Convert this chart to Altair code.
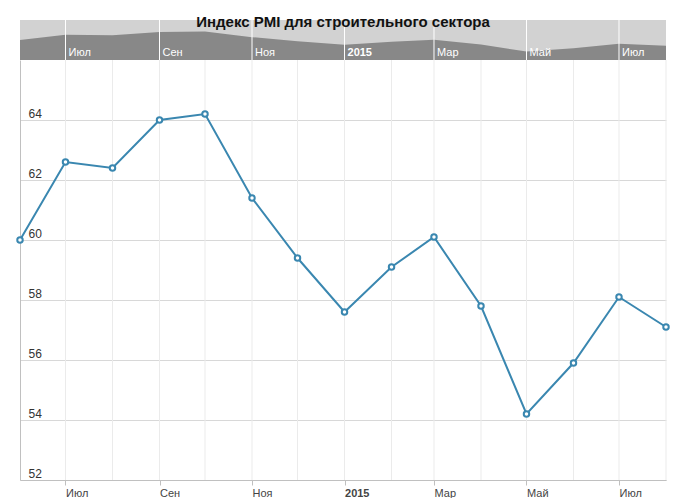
import pandas as pd
import altair as alt

# monthly PMI, construction sector
dates = [
    "2014-06-01", "2014-07-01", "2014-08-01", "2014-09-01", "2014-10-01",
    "2014-11-01", "2014-12-01", "2015-01-01", "2015-02-01", "2015-03-01",
    "2015-04-01", "2015-05-01", "2015-06-01", "2015-07-01", "2015-08-01",
]
pmi = [60.0, 62.6, 62.4, 64.0, 64.2, 61.4, 59.4, 57.6, 59.1, 60.1,
       57.8, 54.2, 55.9, 58.1, 57.1]

tick_dates = ["2014-07-01", "2014-09-01", "2014-11-01", "2015-01-01",
              "2015-03-01", "2015-05-01", "2015-07-01"]
tick_labels = ["Июл", "Сен", "Ноя", "2015", "Мар", "Май", "Июл"]
month_names = ["Янв", "Фев", "Мар", "Апр", "Май", "Июн",
               "Июл", "Авг", "Сен", "Окт", "Ноя", "Дек"]
y_ticks = [52, 54, 56, 58, 60, 62, 64]
title_text = "Индекс PMI для строительного сектора"

W, H, NAV = 646, 460, 40
NAV_MIN, NAV_MAX = 50, 70
FONT = "Liberation Sans"
LINE_COLOR = "#3a87b0"


def ms(d):
    return int(pd.Timestamp(d).value // 10**6)


df = pd.DataFrame({"date": dates, "pmi": pmi, "base": NAV_MIN})
ticks_df = pd.DataFrame({
    "date": tick_dates,
    "label": tick_labels,
    "bold": [lbl.isdigit() for lbl in tick_labels],
})
grid_df = pd.DataFrame({"date": dates[1:]})

x_scale = alt.Scale(type="utc", domain=[ms(dates[0]), ms(dates[-1])])
names_js = "[" + ",".join("'%s'" % m for m in month_names) + "]"
label_expr = (
    "utcmonth(datum.value) == 0 ? utcFormat(datum.value, '%Y') : "
    + names_js + "[utcmonth(datum.value)]"
)

x_axis = alt.Axis(
    values=[ms(d) for d in tick_dates],
    labelExpr=label_expr,
    grid=False,
    domainColor="#c0c0c0",
    tickColor="#c0c0c0",
    tickSize=5,
    labelAlign="left",
    labelBaseline="top",
    labelPadding=2,
    labelFlush=False,
    labelFont=FONT,
    labelFontSize=11,
    labelColor="#444444",
    labelFontWeight={
        "condition": {"test": "utcmonth(datum.value) == 0", "value": "bold"},
        "value": "normal",
    },
    title=None,
)

# navigator strip on top
nav_bg = (
    alt.Chart(pd.DataFrame({"a": [0]}))
    .mark_rect(color="#d2d2d2")
    .encode(x=alt.value(0), x2=alt.value(W), y=alt.value(0), y2=alt.value(NAV))
)

nav_area = (
    alt.Chart(df)
    .mark_area(color="#888888")
    .encode(
        x=alt.X("date:T", scale=x_scale, axis=x_axis),
        y=alt.Y("pmi:Q", scale=alt.Scale(domain=[NAV_MIN, NAV_MAX], range=[NAV, 0]),
                axis=None),
        y2="base:Q",
    )
)

nav_rules = (
    alt.Chart(ticks_df)
    .mark_rule(color="white", strokeWidth=1)
    .encode(x=alt.X("date:T", scale=x_scale), y=alt.value(0), y2=alt.value(NAV))
)

nav_text = (
    alt.Chart(ticks_df)
    .mark_text(align="left", baseline="middle", dx=3, color="white",
               font=FONT, fontSize=11)
    .encode(x=alt.X("date:T", scale=x_scale), y=alt.value(33), text="label:N")
    .transform_filter("!datum.bold")
)

nav_text_bold = (
    alt.Chart(ticks_df)
    .mark_text(align="left", baseline="middle", dx=3, color="white",
               font=FONT, fontSize=11, fontWeight="bold")
    .encode(x=alt.X("date:T", scale=x_scale), y=alt.value(33), text="label:N")
    .transform_filter("datum.bold")
)

# monthly vertical grid lines of the main panel
grid_rules = (
    alt.Chart(grid_df)
    .mark_rule(color="#ebebeb", strokeWidth=1)
    .encode(x=alt.X("date:T", scale=x_scale), y=alt.value(NAV), y2=alt.value(H))
)

main_y = alt.Scale(domain=[52, 66], range=[H, NAV])

line = (
    alt.Chart(df)
    .mark_line(color=LINE_COLOR, strokeWidth=2)
    .encode(
        x=alt.X("date:T", scale=x_scale),
        y=alt.Y(
            "pmi:Q",
            scale=main_y,
            axis=alt.Axis(
                values=y_ticks,
                grid=True,
                gridColor="#d8d8d8",
                domainColor="#c0c0c0",
                ticks=False,
                tickSize=0,
                labelAlign="left",
                labelBaseline="alphabetic",
                labelPadding=-8,
                labelOffset=-3,
                labelFont=FONT,
                labelFontSize=12,
                labelColor="#333333",
                title=None,
            ),
        ),
    )
)

points = (
    alt.Chart(df)
    .mark_point(shape="circle", filled=True, fill="white", fillOpacity=1,
                stroke=LINE_COLOR, strokeWidth=2, size=30, opacity=1)
    .encode(
        x=alt.X("date:T", scale=x_scale),
        y=alt.Y("pmi:Q", scale=main_y, axis=None),
    )
)

title = (
    alt.Chart(pd.DataFrame({"t": [title_text]}))
    .mark_text(align="center", baseline="alphabetic", font=FONT, fontSize=15,
               fontWeight="bold", color="#111111")
    .encode(x=alt.value(W / 2), y=alt.value(7), text="t:N")
)

chart = (
    alt.layer(nav_bg, nav_area, nav_rules, nav_text, nav_text_bold,
              grid_rules, line, points, title)
    .resolve_scale(y="independent")
    .properties(
        width=W,
        height=H,
        autosize=alt.AutoSizeParams(type="none"),
        padding={"left": 12, "top": 12, "right": 12, "bottom": 18},
    )
    .configure_view(stroke=None)
)

chart.save("out.html", embed_options={"renderer": "svg", "actions": False})
